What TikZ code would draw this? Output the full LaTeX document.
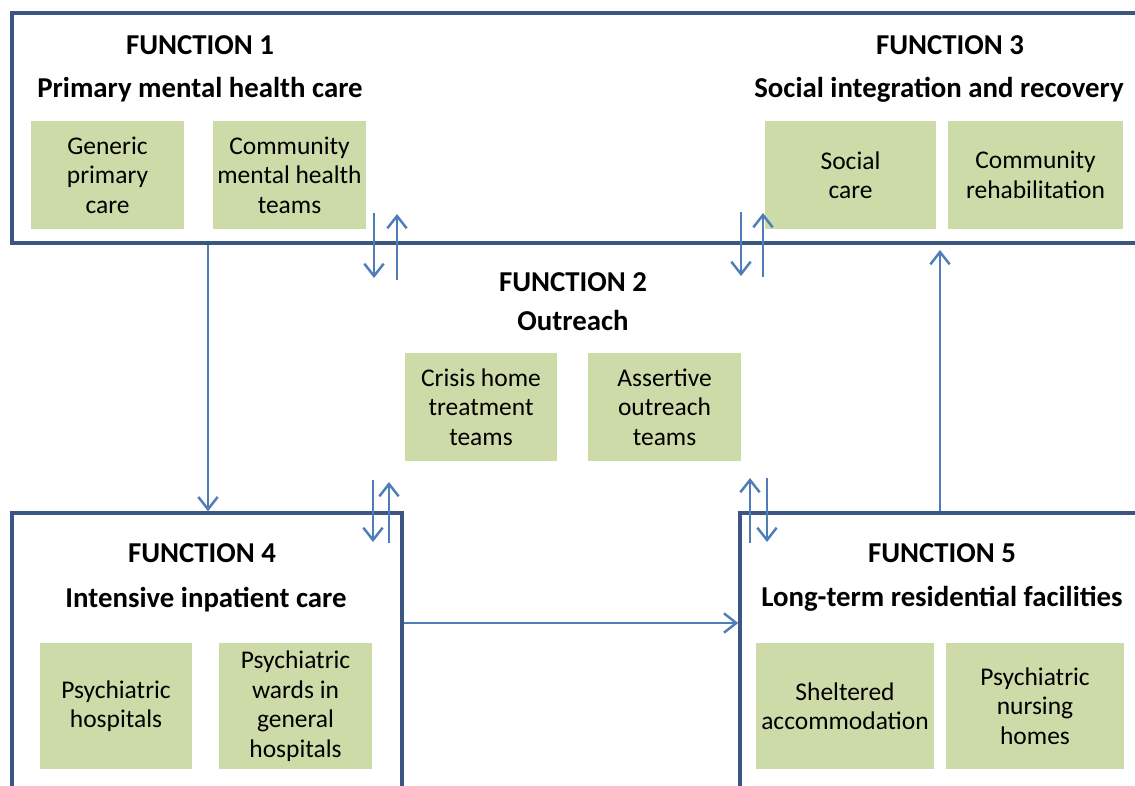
\documentclass[tikz,border=0pt]{standalone}
\usepackage{fontspec}
\setmainfont{Carlito}
\usetikzlibrary{arrows.meta,fit}
\definecolor{frameblue}{RGB}{60,86,132}
\definecolor{arrowblue}{RGB}{79,125,185}
\definecolor{cellgreen}{RGB}{205,219,168}
\begin{document}
\begin{tikzpicture}[
        x=0.02cm, y=-0.02cm,
        frame/.style={rectangle, draw=frameblue, line width=2pt, inner sep=0pt},
        cell/.style={rectangle, fill=cellgreen, align=center, inner sep=0pt, font=\fontsize{14.5}{16.8}\selectfont},
        title/.style={anchor=base, font=\fontsize{16.4}{19}\selectfont\bfseries},
        arrow/.style={draw=arrowblue, line width=1.4pt, -{Straight Barb[length=7pt,width=11pt,line width=1.4pt]}}
    ]
        \useasboundingbox (0,0) rectangle (1135,785);
        \clip (0,0) rectangle (1135,785);

        % Frames
        \node[frame, fit={(12,13) (1160,243)}] (upper) {};
        \node[frame, fit={(12,513) (402,830)}] (inpat) {};
        \node[frame, fit={(740,513) (1160,830)}] (resid) {};

        % Function 1
        \node[title] (f1) at (200,54) {FUNCTION 1};
        \node[title] (f1name) at (200,97) {Primary mental health care};
        \node[cell, minimum width=3.06cm, minimum height=2.16cm] (generic) at (107.5,175) {Generic\\primary\\care};
        \node[cell, minimum width=3.06cm, minimum height=2.16cm] (cmht) at (289.5,175) {Community\\mental health\\teams};

        % Function 3
        \node[title] (f3) at (950,54) {FUNCTION 3};
        \node[title] (f3name) at (939,97) {Social integration and recovery};
        \node[cell, minimum width=3.42cm, minimum height=2.16cm] (social) at (850.5,175) {Social\\care};
        \node[cell, minimum width=3.5cm, minimum height=2.16cm] (rehab) at (1035.5,175) {Community\\rehabilitation};

        % Function 2
        \node[title] (f2) at (573,291) {FUNCTION 2};
        \node[title] (f2name) at (573,330) {Outreach};
        \node[cell, minimum width=3.04cm, minimum height=2.16cm] (crisis) at (481,407) {Crisis home\\treatment\\teams};
        \node[cell, minimum width=3.06cm, minimum height=2.16cm] (assertive) at (664.5,407) {Assertive\\outreach\\teams};

        % Function 4
        \node[title] (f4) at (202,562) {FUNCTION 4};
        \node[title] (f4name) at (206,607) {Intensive inpatient care};
        \node[cell, minimum width=3.04cm, minimum height=2.52cm] (hospitals) at (116,706) {Psychiatric\\hospitals};
        \node[cell, minimum width=3.06cm, minimum height=2.52cm] (wards) at (295.5,706) {Psychiatric\\wards in\\general\\hospitals};

        % Function 5
        \node[title] (f5) at (942,562) {FUNCTION 5};
        \node[title] (f5name) at (942,606) {Long-term residential facilities};
        \node[cell, minimum width=3.56cm, minimum height=2.52cm] (sheltered) at (845,706) {Sheltered\\accommodation};
        \node[cell, minimum width=3.56cm, minimum height=2.52cm] (nursing) at (1035,706) {Psychiatric\\nursing\\homes};

        % Links between frames
        \coordinate (x208) at (208,0);
        \coordinate (x940) at (940,0);
        \coordinate (y623) at (0,623);
        \draw[arrow] (upper.south -| x208) -- (inpat.north -| x208);
        \draw[arrow] (inpat.east |- y623) -- (resid.west |- y623);
        \draw[arrow, shorten >=3pt] (resid.north -| x940) -- (upper.south -| x940);

        % Two-way links with Function 2
        \coordinate (a1) at (374,213); \coordinate (b1) at (374,278);
        \coordinate (a2) at (397,280); \coordinate (b2) at (397,214);
        \coordinate (a3) at (741,212); \coordinate (b3) at (741,276);
        \coordinate (a4) at (763,277); \coordinate (b4) at (763,213);
        \coordinate (a5) at (373,480); \coordinate (b5) at (373,542);
        \coordinate (a6) at (389,543); \coordinate (b6) at (389,482);
        \coordinate (a7) at (750,543); \coordinate (b7) at (750,478);
        \coordinate (a8) at (767,478); \coordinate (b8) at (767,542);
        \foreach \i in {1,...,8}
            \draw[arrow] (a\i) -- (b\i);
    \end{tikzpicture}
\end{document}
